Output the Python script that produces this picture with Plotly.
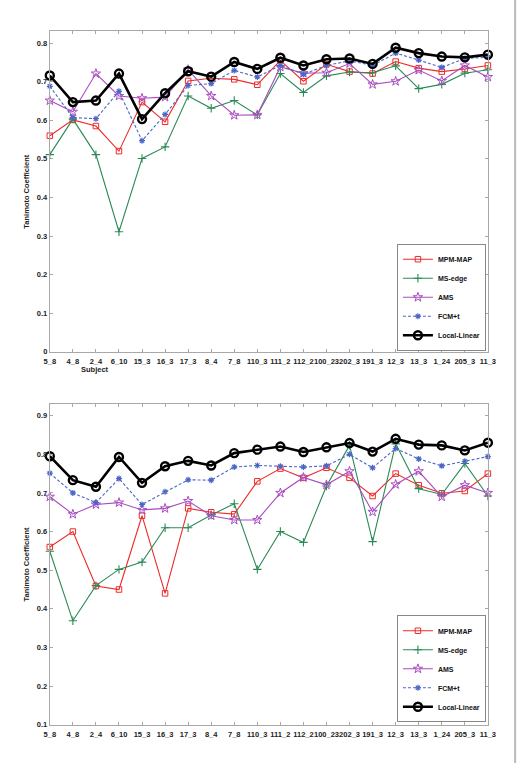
import plotly.graph_objects as go

subjects = ["5_8", "4_8", "2_4", "6_10", "15_3", "16_3", "17_3", "8_4", "7_8", "110_3",
            "111_2", "112_2", "100_23", "202_3", "191_3", "12_3", "13_3", "1_24", "205_3", "11_3"]

# Top panel
top_mpm = [0.560, 0.601, 0.585, 0.520, 0.647, 0.596, 0.702, 0.709, 0.706, 0.692,
           0.755, 0.701, 0.745, 0.726, 0.721, 0.752, 0.735, 0.726, 0.733, 0.742]
top_ms = [0.511, 0.603, 0.511, 0.311, 0.501, 0.531, 0.663, 0.631, 0.651, 0.614,
          0.721, 0.672, 0.715, 0.725, 0.723, 0.741, 0.682, 0.693, 0.722, 0.731]
top_ams = [0.651, 0.622, 0.721, 0.663, 0.657, 0.660, 0.731, 0.663, 0.613, 0.614,
           0.738, 0.722, 0.723, 0.747, 0.693, 0.701, 0.730, 0.702, 0.742, 0.712]
top_fcm = [0.688, 0.607, 0.604, 0.675, 0.547, 0.615, 0.690, 0.695, 0.729, 0.712,
           0.742, 0.719, 0.742, 0.754, 0.742, 0.774, 0.756, 0.737, 0.760, 0.763]
top_ll = [0.716, 0.647, 0.651, 0.721, 0.603, 0.670, 0.727, 0.713, 0.751, 0.733,
          0.762, 0.742, 0.758, 0.760, 0.746, 0.788, 0.774, 0.765, 0.763, 0.770]

# Bottom panel
bot_mpm = [0.560, 0.600, 0.459, 0.450, 0.641, 0.440, 0.660, 0.650, 0.645, 0.730,
           0.763, 0.739, 0.765, 0.739, 0.692, 0.750, 0.720, 0.699, 0.705, 0.750]
bot_ms = [0.549, 0.369, 0.460, 0.502, 0.521, 0.610, 0.610, 0.643, 0.672, 0.502,
          0.600, 0.572, 0.718, 0.823, 0.574, 0.827, 0.711, 0.696, 0.776, 0.692]
bot_ams = [0.690, 0.645, 0.670, 0.675, 0.656, 0.660, 0.679, 0.641, 0.630, 0.630,
           0.700, 0.740, 0.721, 0.756, 0.651, 0.722, 0.756, 0.690, 0.720, 0.700]
bot_fcm = [0.751, 0.700, 0.675, 0.737, 0.670, 0.703, 0.734, 0.733, 0.767, 0.771,
           0.769, 0.767, 0.770, 0.800, 0.765, 0.815, 0.788, 0.770, 0.782, 0.794]
bot_ll = [0.795, 0.733, 0.716, 0.793, 0.726, 0.769, 0.783, 0.771, 0.803, 0.812,
          0.820, 0.806, 0.818, 0.829, 0.807, 0.840, 0.825, 0.823, 0.810, 0.830]

names = ["MPM-MAP", "MS-edge", "AMS", "FCM+t", "Local-Linear"]
colors = ["#ee2a2a", "#2a8a55", "#a94cc0", "#4a66c8", "#000000"]
symbols = ["square-open", "cross-thin-open", "star-open", "asterisk-open", "circle-open"]
msizes = [5.5, 6, 7, 5, 8]
lwidths = [1.1, 1.1, 1.1, 1.1, 2.6]
mlw = [1.0, 1.1, 1.0, 1.2, 2.4]
dashes = ["solid", "solid", "solid", "3px,2px", "solid"]

xs = list(range(1, len(subjects) + 1))
fig = go.Figure()

panels = [
    ([top_mpm, top_ms, top_ams, top_fcm, top_ll], "x", "y", "legend"),
    ([bot_mpm, bot_ms, bot_ams, bot_fcm, bot_ll], "x2", "y2", "legend2"),
]
for series, xa, ya, lg in panels:
    for i, vals in enumerate(series):
        fig.add_trace(go.Scatter(
            x=xs, y=vals, name=names[i], mode="lines+markers",
            xaxis=xa, yaxis=ya, legend=lg, cliponaxis=False,
            line=dict(color=colors[i], width=lwidths[i], dash=dashes[i]),
            marker=dict(symbol=symbols[i], size=msizes[i], color=colors[i],
                        line=dict(color=colors[i], width=mlw[i])),
        ))

W, H = 528, 768
xl, xr = 45, 495
dom_x = [xl / W, xr / W]
top_dom = [1 - 354.1 / H, 1 - 31.7 / H]
bot_dom = [1 - 729.5 / H, 1 - 406.7 / H]

font_family = "Liberation Sans, Arial"
tickfont = dict(family=font_family, size=7.5, color="#222", weight="bold")
axis_common = dict(showgrid=False, zeroline=False, showline=True, linecolor="#a8a8a8",
                   linewidth=1, mirror="ticks", ticks="inside", ticklen=3,
                   tickcolor="#a8a8a8", tickfont=tickfont)
title_font = dict(family=font_family, size=7.5, color="#222", weight="bold")
legend_font = dict(family=font_family, size=7, color="#111", weight="bold")

fig.update_layout(
    width=W, height=H, margin=dict(l=0, r=0, t=0, b=0),
    paper_bgcolor="white", plot_bgcolor="white",
    xaxis=dict(domain=dom_x, anchor="y", range=[1, 20], tickmode="array",
               tickvals=xs, ticktext=subjects, tickangle=0, ticklabelstandoff=2,
               **axis_common),
    yaxis=dict(domain=top_dom, anchor="x", range=[0, 0.83], dtick=0.1, tick0=0,
               title=dict(text="Tanimoto Coefficient", standoff=6, font=title_font),
               **axis_common),
    xaxis2=dict(domain=dom_x, anchor="y2", range=[1, 20], tickmode="array",
                tickvals=xs, ticktext=subjects, tickangle=0, ticklabelstandoff=2,
                **axis_common),
    yaxis2=dict(domain=bot_dom, anchor="x2", range=[0.1, 0.93], dtick=0.1, tick0=0.1,
                title=dict(text="Tanimoto Coefficient", standoff=6, font=title_font),
                **axis_common),
    legend=dict(x=493 / W, xanchor="right", y=1 - 353 / H, yanchor="bottom",
                bgcolor="white", bordercolor="#888", borderwidth=1,
                font=legend_font, tracegroupgap=0, itemwidth=30),
    legend2=dict(x=493 / W, xanchor="right", y=1 - 727 / H, yanchor="bottom",
                 bgcolor="white", bordercolor="#888", borderwidth=1,
                 font=legend_font, tracegroupgap=0, itemwidth=30),
    showlegend=True,
    annotations=[dict(text="Subject", xref="x", yref="y domain", x=2.95, y=-0.055,
                      xanchor="center", yanchor="middle", showarrow=False,
                      font=title_font)],
    shapes=[dict(type="line", xref="paper", yref="paper", x0=523 / W, x1=523 / W,
                 y0=0, y1=1, line=dict(color="#bbbbbb", width=2))],
)

fig.write_html("out.html")
